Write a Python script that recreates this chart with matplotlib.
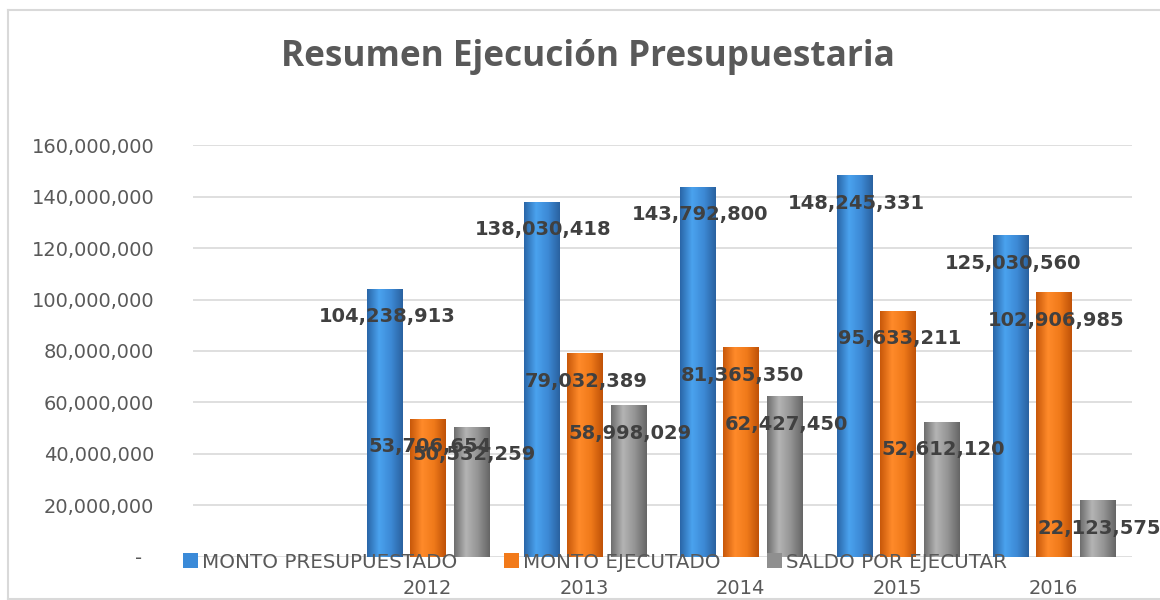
import matplotlib
matplotlib.use("Agg")
import matplotlib.pyplot as plt
import matplotlib.ticker as ticker
from matplotlib.colors import LinearSegmentedColormap
from matplotlib.lines import Line2D
import numpy as np

TITLE = "Resumen Ejecución Presupuestaria"
YEARS = ["", "2012", "2013", "2014", "2015", "2016"]
SERIES = ["MONTO PRESUPUESTADO", "MONTO EJECUTADO", "SALDO POR EJECUTAR"]

presupuestado = [None, 104238913, 138030418, 143792800, 148245331, 125030560]
ejecutado = [None, 53706654, 79032389, 81365350, 95633211, 102906985]
saldo = [None, 50532259, 58998029, 62427450, 52612120, 22123575]

# dark edge -> light middle -> dark edge, per series
GRADS = {
    "MONTO PRESUPUESTADO": ["#2a66a8", "#4aa2ee", "#3d8ad6", "#2a62a0"],
    "MONTO EJECUTADO":     ["#c8580a", "#ff8a2a", "#f07a1a", "#c05208"],
    "SALDO POR EJECUTAR":  ["#6e6e6e", "#b4b4b4", "#949494", "#666666"],
}
BASE = {
    "MONTO PRESUPUESTADO": "#3a8ad8",
    "MONTO EJECUTADO":     "#f27a1a",
    "SALDO POR EJECUTAR":  "#8f8f8f",
}

TXT = "#595959"
LBL = "#404040"

fig = plt.figure(figsize=(11.6, 6), dpi=100)
fig.patch.set_facecolor("white")
ax = fig.add_axes([0.1664, 0.0717, 0.8095, 0.6866])

x = np.arange(len(YEARS))
width = 0.224
offsets = [-0.275, 0.0, 0.28]
grad = np.linspace(0, 1, 64).reshape(1, -1)

for name, vals, off in zip(SERIES, [presupuestado, ejecutado, saldo], offsets):
    v = np.array([np.nan if a is None else a for a in vals], dtype=float)
    bars = ax.bar(x + off, np.nan_to_num(v), width, color=BASE[name],
                  edgecolor="none", label=name, zorder=2)
    cmap = LinearSegmentedColormap.from_list(name, GRADS[name])
    for b, val in zip(bars, v):
        if np.isnan(val):
            continue
        bx, bw, bh = b.get_x(), b.get_width(), b.get_height()
        im = ax.imshow(grad, cmap=cmap, aspect="auto", zorder=2.1,
                       extent=(bx, bx + bw, 0, bh))
        im.set_clip_path(b)
        ax.annotate(f"{val:,.0f}", (bx + bw / 2, bh), xytext=(2, -28),
                    textcoords="offset pixels",
                    ha="center", va="center", fontsize=14, fontweight="bold",
                    color=LBL, zorder=5)

ax.set_xlim(-0.5, len(YEARS) - 0.5)
ax.set_ylim(0, 160_000_000)
ax.yaxis.set_major_locator(ticker.MultipleLocator(20_000_000))
# accounting style: zero shown as a dash
ax.yaxis.set_major_formatter(ticker.FuncFormatter(
    lambda v, p: "-  " if v == 0 else f"{v:,.0f}"))
ax.set_xticks(x)
ax.set_xticklabels(YEARS)
ax.tick_params(axis="both", length=0, labelsize=14, colors=TXT)
ax.tick_params(axis="y", pad=28)
ax.tick_params(axis="x", pad=16)
for s in ax.spines.values():
    s.set_visible(False)
ax.grid(axis="y", color="#d9d9d9", linewidth=1.2, zorder=0)
ax.set_axisbelow(True)

fig.text(0.5065, 0.905, TITLE, ha="center", va="center", fontsize=25.3,
         fontweight="bold", color=TXT, family="Open Sans")

handles, labels = ax.get_legend_handles_labels()
leg = fig.legend(handles, labels, loc="center left", bbox_to_anchor=(0.1578, 0.063),
                 ncol=3, frameon=False, fontsize=14.3, handlelength=0.75,
                 handleheight=0.75, handletextpad=0.2, columnspacing=2.35,
                 borderaxespad=0, borderpad=0)
for t in leg.get_texts():
    t.set_color(TXT)

# chart frame (open on the right, as in the reference crop)
frame = dict(color="#d9d9d9", linewidth=1.5, transform=fig.transFigure)
fig.add_artist(Line2D([0.007, 1.0], [0.984, 0.984], **frame))
fig.add_artist(Line2D([0.007, 0.007], [0.0, 0.984], **frame))
fig.add_artist(Line2D([0.007, 1.0], [0.002, 0.002], **frame))

fig.savefig("out.png", dpi=100, facecolor="white")
